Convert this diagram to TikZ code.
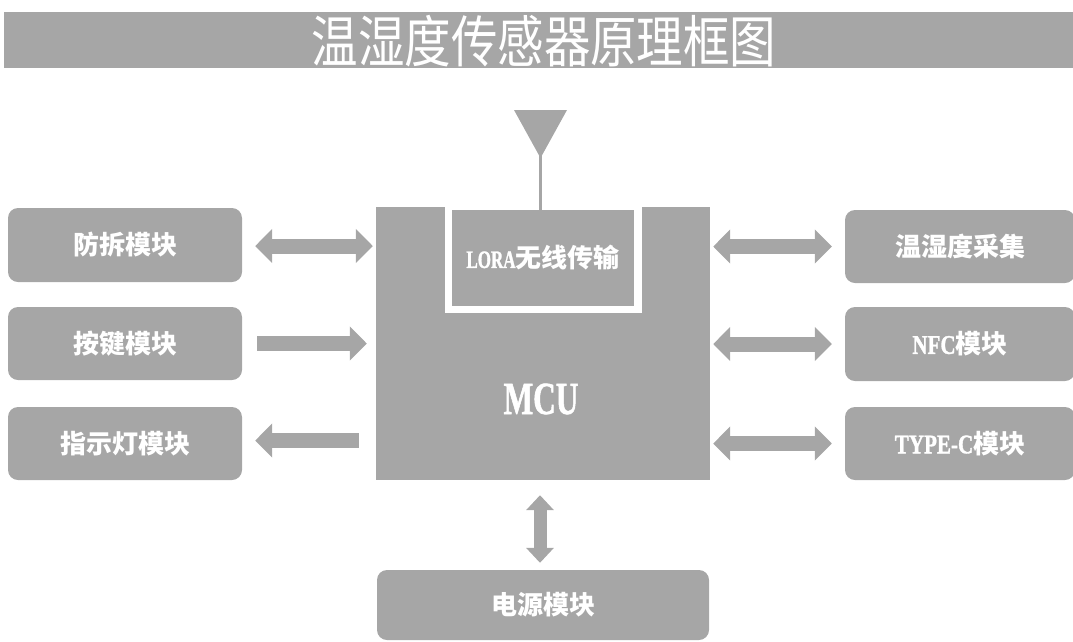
\documentclass[tikz,border=0pt]{standalone}
\usepackage{fontspec}
\newfontfamily\cjk{Noto Sans CJK SC}
\newfontfamily\titlefont{Noto Sans CJK SC}[FakeStretch=0.83]
\newfontfamily\latc{Liberation Serif}[UprightFont=* Bold, BoldFont=* Bold, FakeStretch=0.78, FakeBold=1.2]
\newfontfamily\latn{Liberation Serif}[UprightFont=* Bold, BoldFont=* Bold, FakeStretch=0.68, FakeBold=1.2]
\usetikzlibrary{arrows.meta,calc}
\definecolor{boxgray}{HTML}{A6A6A6}
\tikzset{
  mod/.style={fill=boxgray, rounded corners=10pt, minimum width=234pt, minimum height=74pt,
    inner sep=0pt, text=white, font=\cjk\bfseries\fontsize{26}{30}\selectfont},
  harrow/.style={draw=boxgray, line width=15pt, -{Triangle[width=33pt,length=17pt]}},
  dharrow/.style={draw=boxgray, line width=15pt, {Triangle[width=33pt,length=17pt]}-{Triangle[width=33pt,length=17pt]}},
  dvarrow/.style={draw=boxgray, line width=13pt, {Triangle[width=27pt,length=15pt]}-{Triangle[width=27pt,length=15pt]}},
}
\begin{document}
\begin{tikzpicture}[x=1pt,y=-1pt]
\useasboundingbox (0,0) rectangle (1073,641);
% title
\fill[boxgray] (4,12) rectangle (1073,68);
\node[text=white, font=\titlefont\fontsize{56}{60}\selectfont, inner sep=0pt] (title) at (544,41) {温湿度传感器原理框图};
% MCU block
\node[fill=boxgray, minimum width=334pt, minimum height=273pt, inner sep=0pt] (M) at (543,343.5) {};
\fill[white] (445,206) rectangle (642,313);
\node[fill=boxgray, minimum width=182pt, minimum height=96pt, inner sep=0pt, text=white,
  font=\cjk\bfseries\fontsize{26}{30}\selectfont] (Lo) at (543,258) {{\latn\fontsize{25}{30}\selectfont LORA}无线传输};
\node[text=white, font=\latn\fontsize{46}{50}\selectfont, inner sep=0pt] (mcu) at (541,399) {MCU};
% antenna
\fill[boxgray] (514,110) -- (567,110) -- (540.5,158) -- cycle;
\coordinate (ant) at (540.5,150);
\draw[boxgray, line width=3pt] (ant) -- (ant |- Lo.north);
% left modules
\node[mod] (L1) at (125,245) {防拆模块};
\node[mod, minimum height=73pt] (L2) at (125,343.5) {按键模块};
\node[mod, minimum height=73pt] (L3) at (125,443.5) {指示灯模块};
% right modules
\node[mod, minimum width=230pt, minimum height=73pt] (R1) at (960,246.5) {温湿度采集};
\node[mod, minimum width=230pt, minimum height=74pt] (R2) at (960,344) {{\latc\fontsize{27}{30}\selectfont NFC}模块};
\node[mod, minimum width=230pt, minimum height=73pt] (R3) at (960,443.5) {{\latc\fontsize{27}{30}\selectfont TYPE-C}模块};
% power
\node[mod, minimum width=332pt, minimum height=70pt] (P) at (543,605) {电源模块};
% connectors
\draw[dharrow] ($(L1.east)+(13,1)$) -- ($(M.west |- L1.east)+(-3,1)$);
\draw[harrow] ($(L2.east)+(15,0)$) -- ($(M.west |- L2.east)+(-9,0)$);
\draw[harrow] ($(M.west |- L3.east)+(-17,-3)$) -- ($(L3.east)+(13,-3)$);
\draw[dharrow] ($(M.east |- R1.west)+(3,0)$) -- ($(R1.west)+(-13,0)$);
\draw[dharrow] ($(M.east |- R2.west)+(3,0)$) -- ($(R2.west)+(-13,0)$);
\draw[dharrow] ($(M.east |- R3.west)+(3,0)$) -- ($(R3.west)+(-13,0)$);
\draw[dvarrow] ($(M.south)+(-3,15)$) -- ($(P.north)+(-3,-7)$);
\end{tikzpicture}
\end{document}
